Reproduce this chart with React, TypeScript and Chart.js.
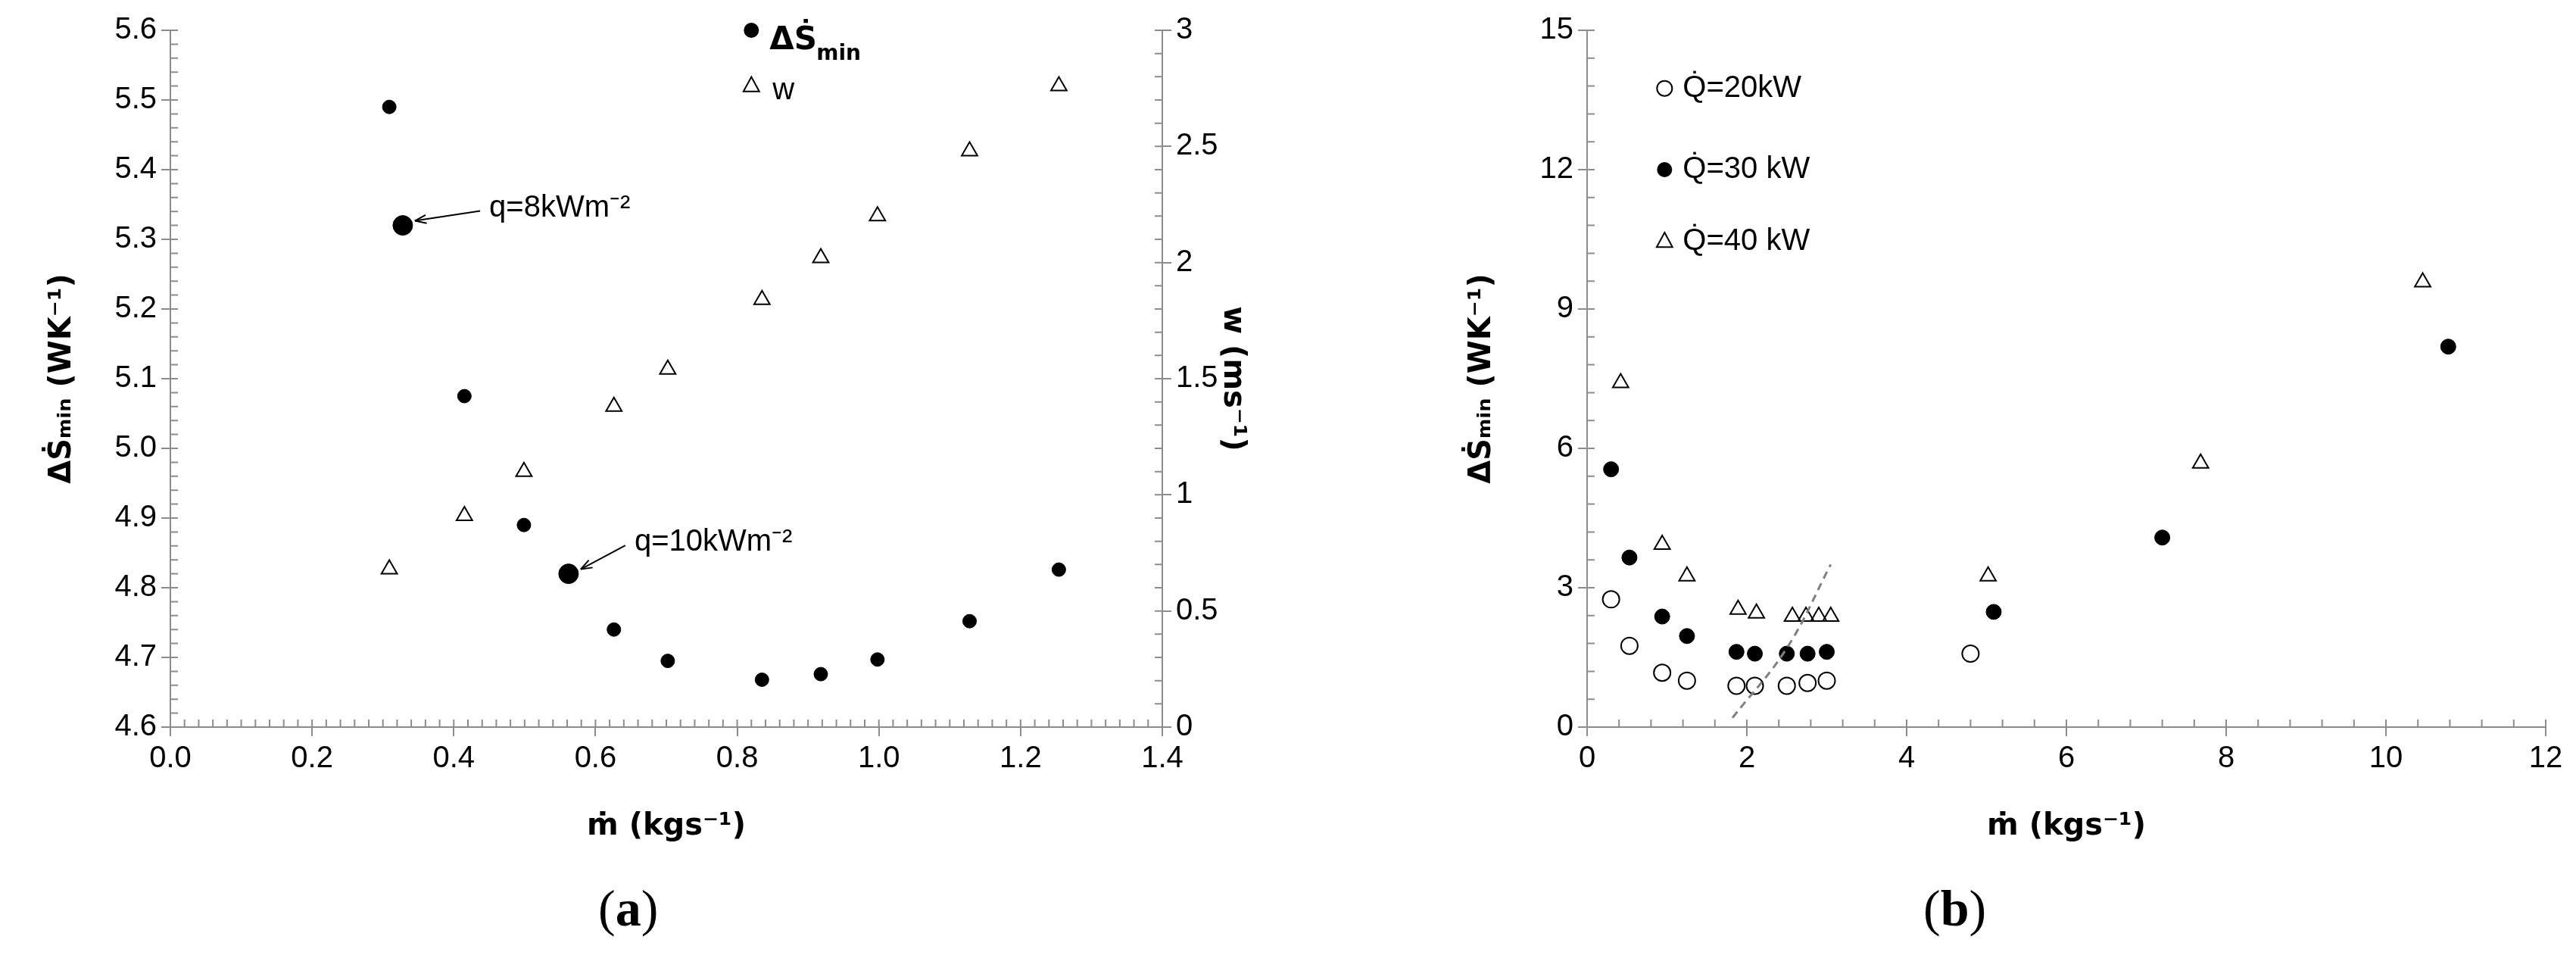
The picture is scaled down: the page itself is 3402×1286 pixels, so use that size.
import React, { useEffect, useRef } from "react";
import { Chart, registerables } from "chart.js";
Chart.register(...registerables);

// ---- panel (a) data ----
const aMassFlow = [0.309, 0.415, 0.499, 0.626, 0.702, 0.835, 0.918, 0.998, 1.128, 1.254];
const aEntropy = [5.49, 5.075, 4.89, 4.74, 4.695, 4.668, 4.676, 4.697, 4.752, 4.826];
const aVelocity = [0.68, 0.91, 1.1, 1.38, 1.54, 1.84, 2.02, 2.2, 2.48, 2.76];
const aHighlightX = [0.328, 0.562];
const aHighlightY = [5.32, 4.82];
const aHighlightLabels = ["q=8kWm⁻²", "q=10kWm⁻²"];

// ---- panel (b) data ----
const bQ20x = [0.3, 0.53, 0.94, 1.25, 1.87, 2.1, 2.5, 2.76, 3.0, 4.8];
const bQ20y = [2.75, 1.75, 1.17, 1.0, 0.89, 0.89, 0.89, 0.95, 1.0, 1.58];
const bQ30x = [0.3, 0.53, 0.94, 1.25, 1.87, 2.1, 2.5, 2.76, 3.0, 5.09, 7.2, 10.78];
const bQ30y = [5.55, 3.65, 2.38, 1.96, 1.62, 1.58, 1.58, 1.58, 1.62, 2.48, 4.08, 8.19];
const bQ40x = [0.42, 0.94, 1.25, 1.89, 2.12, 2.57, 2.74, 2.9, 3.05, 5.02, 7.68, 10.46];
const bQ40y = [7.41, 3.93, 3.25, 2.53, 2.45, 2.38, 2.38, 2.38, 2.38, 3.25, 5.68, 9.58];
const bTrendX = [1.82, 2.5, 3.05];
const bTrendY = [0.2, 1.7, 3.5];
const bLegend = ["Q̇=20kW", "Q̇=30 kW", "Q̇=40 kW"];

const TICK_FONT = "'Liberation Sans Narrow', 'Liberation Sans', sans-serif";
const GREY = "#8c8c8c";
const TICK_SIZE = 40;
const TITLE_FONT = { family: "'DejaVu Sans', sans-serif", size: 40, weight: "bold" };

function xy(xs: number[], ys: number[]) {
  return xs.map((x, i) => ({ x, y: ys[i] }));
}

function minorTicks(chart: any, axisId: string, step: number, len: number) {
  const s = chart.scales[axisId];
  const ctx = chart.ctx;
  const a = chart.chartArea;
  ctx.save();
  ctx.strokeStyle = GREY;
  ctx.lineWidth = 2;
  ctx.beginPath();
  for (let v = s.min; v <= s.max + 1e-9; v += step) {
    const p = s.getPixelForValue(v);
    if (s.isHorizontal()) {
      ctx.moveTo(p, a.bottom);
      ctx.lineTo(p, a.bottom - len);
    } else if (s.position === "left") {
      ctx.moveTo(a.left, p);
      ctx.lineTo(a.left + len, p);
    } else {
      ctx.moveTo(a.right, p);
      ctx.lineTo(a.right - len, p);
    }
  }
  ctx.stroke();
  ctx.restore();
}

function drawMarker(ctx: any, type: string, x: number, y: number, r: number) {
  ctx.save();
  ctx.lineWidth = 2;
  ctx.strokeStyle = "#000";
  ctx.fillStyle = "#000";
  ctx.beginPath();
  if (type === "dot") {
    ctx.arc(x, y, r, 0, Math.PI * 2);
    ctx.fill();
  } else if (type === "circle") {
    ctx.arc(x, y, r, 0, Math.PI * 2);
    ctx.stroke();
  } else {
    ctx.moveTo(x, y - r);
    ctx.lineTo(x + r * 0.87, y + r * 0.6);
    ctx.lineTo(x - r * 0.87, y + r * 0.6);
    ctx.closePath();
    ctx.stroke();
  }
  ctx.restore();
}

function baseScale(min: number, max: number, step: number, fmt: (v: number) => string, pos: string) {
  return {
    type: "linear",
    position: pos,
    min,
    max,
    border: { color: GREY, width: 2 },
    grid: { drawOnChartArea: false, color: GREY, lineWidth: 2, tickLength: 12 },
    ticks: { stepSize: step, color: "#000", font: { family: TICK_FONT, size: TICK_SIZE }, callback: (v: any) => fmt(Number(v)), padding: 6 },
  };
}

function PanelA() {
  const ref = useRef<HTMLCanvasElement>(null);
  useEffect(() => {
    const plugin = {
      id: "extrasA",
      afterDraw(chart: any) {
        minorTicks(chart, "x", 0.02, 10);
        minorTicks(chart, "y", 0.02, 10);
        minorTicks(chart, "y1", 0.1, 10);
        const ctx = chart.ctx;
        const x = chart.scales.x, y = chart.scales.y, y1 = chart.scales.y1;
        const lx = x.getPixelForValue(0.82);
        drawMarker(ctx, "dot", lx, y.getPixelForValue(5.6), 10);
        drawMarker(ctx, "tri", lx, y1.getPixelForValue(2.76), 12);
        ctx.save();
        ctx.fillStyle = "#000";
        ctx.textBaseline = "middle";
        ctx.font = "bold 42px 'DejaVu Sans', sans-serif";
        ctx.fillText("ΔṠ", lx + 24, y.getPixelForValue(5.585));
        ctx.font = "bold 28px 'DejaVu Sans', sans-serif";
        ctx.fillText("min", lx + 86, y.getPixelForValue(5.565));
        ctx.font = TICK_SIZE + "px " + TICK_FONT;
        ctx.fillText("w", lx + 28, y1.getPixelForValue(2.74));
        const tx = [0.45, 0.655], ty = [5.345, 4.865];
        for (let i = 0; i < 2; i++) {
          const px = x.getPixelForValue(tx[i]), py = y.getPixelForValue(ty[i]);
          ctx.font = TICK_SIZE + "px " + TICK_FONT;
          ctx.fillText(aHighlightLabels[i], px, py);
          const ex = x.getPixelForValue(aHighlightX[i]) + 16, ey = y.getPixelForValue(aHighlightY[i]) - 6;
          const sx = px - 12, sy = py + 4;
          ctx.strokeStyle = "#000";
          ctx.lineWidth = 2;
          ctx.beginPath();
          ctx.moveTo(sx, sy);
          ctx.lineTo(ex, ey);
          ctx.stroke();
          const ang = Math.atan2(ey - sy, ex - sx);
          ctx.beginPath();
          ctx.moveTo(ex, ey);
          ctx.lineTo(ex - 16 * Math.cos(ang - 0.35), ey - 16 * Math.sin(ang - 0.35));
          ctx.moveTo(ex, ey);
          ctx.lineTo(ex - 16 * Math.cos(ang + 0.35), ey - 16 * Math.sin(ang + 0.35));
          ctx.stroke();
        }
        ctx.restore();
      },
    };
    const chart = new Chart(ref.current!, {
      type: "scatter",
      data: {
        datasets: [
          { data: xy(aMassFlow, aEntropy), yAxisID: "y", pointStyle: "circle", pointRadius: 9, backgroundColor: "#000", borderColor: "#000" },
          { data: xy(aHighlightX, aHighlightY), yAxisID: "y", pointStyle: "circle", pointRadius: 13, backgroundColor: "#000", borderColor: "#000" },
          { data: xy(aMassFlow, aVelocity), yAxisID: "y1", pointStyle: "triangle", pointRadius: 12, backgroundColor: "rgba(0,0,0,0)", borderColor: "#000", borderWidth: 2 },
        ],
      } as any,
      options: {
        animation: false,
        responsive: false,
        layout: { padding: { top: 40, left: 55, right: 45, bottom: 0 } },
        plugins: { legend: { display: false }, tooltip: { enabled: false } },
        scales: {
          x: {
            ...baseScale(0, 1.4, 0.2, (v) => v.toFixed(1), "bottom"),
            title: { display: true, text: "ṁ (kgs⁻¹)", color: "#000", font: TITLE_FONT, padding: { top: 18 } },
            afterFit: (s: any) => { s.height = 160; },
          },
          y: {
            ...baseScale(4.6, 5.6, 0.1, (v) => v.toFixed(1), "left"),
            title: { display: true, text: "ΔṠₘᵢₙ (WK⁻¹)", color: "#000", font: TITLE_FONT },
            afterFit: (s: any) => { s.width = 170; },
          },
          y1: {
            ...baseScale(0, 3, 0.5, (v) => String(v), "right"),
            title: { display: true, text: "w (ms⁻¹)", color: "#000", font: TITLE_FONT },
            afterFit: (s: any) => { s.width = 120; },
          },
        } as any,
      },
      plugins: [plugin],
    });
    return () => chart.destroy();
  }, []);
  return <canvas ref={ref} width={1700} height={1120} style={{ position: "absolute", left: 0, top: 0, width: 1700, height: 1120 }} />;
}

function PanelB() {
  const ref = useRef<HTMLCanvasElement>(null);
  useEffect(() => {
    const plugin = {
      id: "extrasB",
      afterDraw(chart: any) {
        minorTicks(chart, "x", 0.4, 10);
        minorTicks(chart, "y", 0.6, 10);
        const ctx = chart.ctx;
        const x = chart.scales.x, y = chart.scales.y;
        const lx = x.getPixelForValue(0.97);
        const ly = [13.75, 12.0, 10.45];
        const types = ["circle", "dot", "tri"];
        ctx.save();
        ctx.fillStyle = "#000";
        ctx.textBaseline = "middle";
        ctx.font = TICK_SIZE + "px " + TICK_FONT;
        for (let i = 0; i < 3; i++) {
          const py = y.getPixelForValue(ly[i]);
          drawMarker(ctx, types[i], lx, py, types[i] === "tri" ? 12 : 10);
          ctx.fillText(bLegend[i], lx + 24, py);
        }
        ctx.restore();
      },
    };
    const chart = new Chart(ref.current!, {
      type: "scatter",
      data: {
        datasets: [
          { data: xy(bTrendX, bTrendY), showLine: true, tension: 0.4, borderColor: "#808080", borderWidth: 3, borderDash: [10, 7], pointRadius: 0 },
          { data: xy(bQ20x, bQ20y), pointStyle: "circle", pointRadius: 11, backgroundColor: "rgba(0,0,0,0)", borderColor: "#000", borderWidth: 2 },
          { data: xy(bQ30x, bQ30y), pointStyle: "circle", pointRadius: 10, backgroundColor: "#000", borderColor: "#000" },
          { data: xy(bQ40x, bQ40y), pointStyle: "triangle", pointRadius: 12, backgroundColor: "rgba(0,0,0,0)", borderColor: "#000", borderWidth: 2 },
        ],
      } as any,
      options: {
        animation: false,
        responsive: false,
        layout: { padding: { top: 40, left: 130, right: 40, bottom: 0 } },
        plugins: { legend: { display: false }, tooltip: { enabled: false } },
        scales: {
          x: {
            ...baseScale(0, 12, 2, (v) => String(v), "bottom"),
            title: { display: true, text: "ṁ (kgs⁻¹)", color: "#000", font: TITLE_FONT, padding: { top: 18 } },
            afterFit: (s: any) => { s.height = 160; },
          },
          y: {
            ...baseScale(0, 15, 3, (v) => String(v), "left"),
            title: { display: true, text: "ΔṠₘᵢₙ (WK⁻¹)", color: "#000", font: TITLE_FONT },
            afterFit: (s: any) => { s.width = 166; },
          },
        } as any,
      },
      plugins: [plugin],
    });
    return () => chart.destroy();
  }, []);
  return <canvas ref={ref} width={1602} height={1120} style={{ position: "absolute", left: 1800, top: 0, width: 1602, height: 1120 }} />;
}

export default function App() {
  const cap: React.CSSProperties = { position: "absolute", top: 1160, fontFamily: "'Liberation Serif', serif", fontSize: 68, color: "#000" };
  return (
    <div style={{ position: "fixed", left: 0, top: 0, width: 3402, height: 1286, background: "#fff", overflow: "hidden" }}>
      <PanelA />
      <PanelB />
      <div style={{ ...cap, left: 790 }}>(<b>a</b>)</div>
      <div style={{ ...cap, left: 2540 }}>(<b>b</b>)</div>
    </div>
  );
}
